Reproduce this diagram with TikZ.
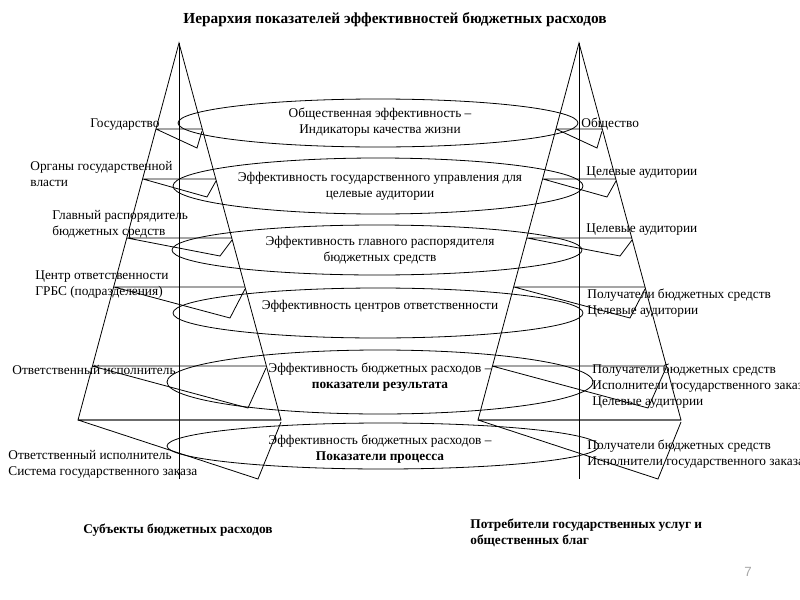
\documentclass[tikz,border=0pt]{standalone}
\usepackage{fontspec}
\setmainfont{Liberation Serif}
\newfontfamily\pagefont{Liberation Sans}
\begin{document}
\begin{tikzpicture}[x=0.75pt,y=-0.75pt,line width=0.6pt,
  lbl/.style={inner sep=0pt,font=\fontsize{10}{12}\selectfont},
  hdr/.style={inner sep=0pt,font=\fontsize{10}{12}\selectfont\bfseries}]
\useasboundingbox (0,0) rectangle (800,600);

\node [inner sep=0pt,font=\fontsize{11.5}{13}\selectfont\bfseries] (title) at (395,20) {Иерархия показателей эффективностей бюджетных расходов};

\foreach \dx in {0,400} {
\begin{scope}[shift={(\dx,0)}]
\draw (179,43) -- (78,420) -- (281,420) -- cycle;
\draw (179,43) -- (179,479);
\foreach \y/\xl/\xr/\fx/\fy in {129/156/202/197/148, 179/143/216/207/197, 238/127/232/220/256, 287/114/245/230/318, 366/92/266/248/408, 420/78/281/258/479}
  \draw (\xl,\y) -- (\xr,\y) (\xl,\y) -- (\fx,\fy) -- (\xr,\y+2);
\end{scope}
}

\draw (378,123) ellipse [x radius=200, y radius=24];
\draw (378,186) ellipse [x radius=205, y radius=28];
\draw (377,250) ellipse [x radius=205, y radius=25];
\draw (378,313) ellipse [x radius=205, y radius=25];
\draw (380,382) ellipse [x radius=213, y radius=32];
\draw (383,446) ellipse [x radius=216, y radius=23];

\node [lbl,align=center] (e1) at (380,122) {Общественная эффективность –\\Индикаторы качества жизни};
\node [lbl,align=center] (e2) at (380,186) {Эффективность государственного управления для\\целевые аудитории};
\node [lbl,align=center] (e3) at (380,250) {Эффективность главного распорядителя\\бюджетных средств};
\node [lbl,align=center] (e4) at (380,306) {Эффективность центров ответственности};
\node [lbl,align=center] (e5) at (380,377) {Эффективность бюджетных расходов –\\\textbf{показатели результата}};
\node [lbl,align=center] (e6) at (380,449) {Эффективность бюджетных расходов –\\\textbf{Показатели процесса}};

\node [lbl,anchor=west] (l1) at (90,125) {Государство};
\node [lbl,anchor=west,align=left] (l2) at (30,174) {Органы государственной\\власти};
\node [lbl,anchor=west,align=left] (l3) at (52,224) {Главный распорядитель\\бюджетных средств};
\node [lbl,anchor=west,align=left] (l4) at (35,285) {Центр ответственности\\ГРБС (подразделения)};
\node [lbl,anchor=west] (l5) at (12,370) {Ответственный исполнитель};
\node [lbl,anchor=west,align=left] (l6) at (8,464) {Ответственный исполнитель\\Система государственного заказа};

\node [lbl,anchor=west] (r1) at (581,124) {Общество};
\node [lbl,anchor=west] (r2) at (586,173) {Целевые аудитории};
\node [lbl,anchor=west] (r3) at (586,230) {Целевые аудитории};
\node [lbl,anchor=west,align=left] (r4) at (587,303) {Получатели бюджетных средств\\Целевые аудитории};
\node [lbl,anchor=west,align=left] (r5) at (592,386) {Получатели бюджетных средств\\Исполнители государственного заказа\\Целевые аудитории};
\node [lbl,anchor=west,align=left] (r6) at (587,454) {Получатели бюджетных средств\\Исполнители государственного заказа};

\node [hdr,anchor=west] (subj) at (83,530) {Субъекты бюджетных расходов};
\node [hdr,anchor=west,align=left] (cons) at (470,533) {Потребители государственных услуг и\\общественных благ};

\node [inner sep=0pt,text=gray!70,font=\pagefont\fontsize{10}{12}\selectfont] (page) at (748,572) {7};
\end{tikzpicture}
\end{document}
